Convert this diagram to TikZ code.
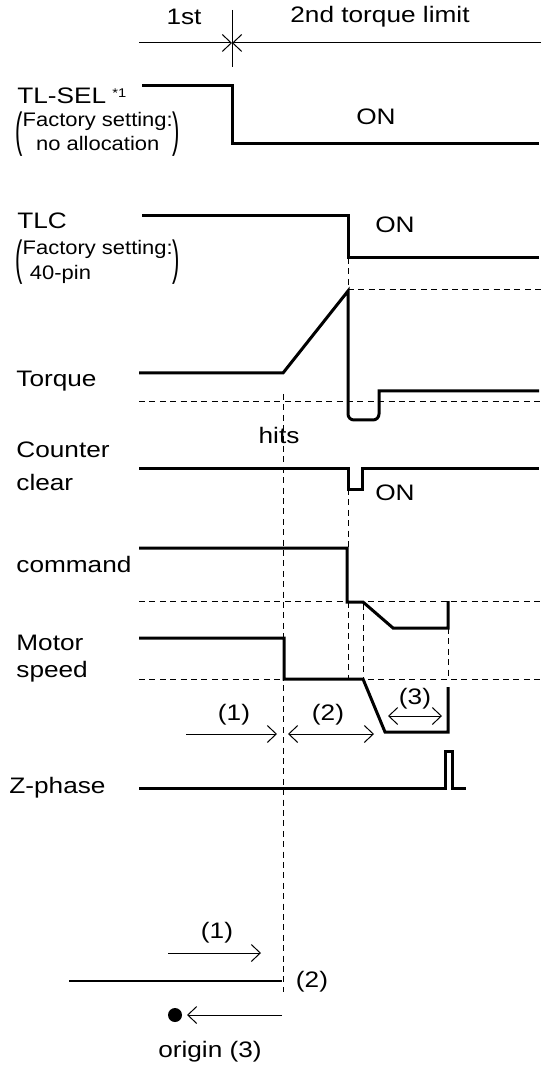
\documentclass[tikz,border=0pt]{standalone}
\usepackage{fontspec}
\setmainfont{Liberation Sans}[FakeStretch=1.17]
\newfontfamily\notefont{Liberation Sans}[FakeStretch=1.12]
\usepackage{graphicx}
\usetikzlibrary{arrows.meta}

% tall thin bracket for the setting notes
\newcommand{\tallparen}[1]{\raisebox{-9.9pt}{\scalebox{1}[2.44]{#1}}}

\begin{document}
\begin{tikzpicture}[x=0.5pt, y=-0.5pt,
    >={Straight Barb[length=4.5pt, width=8.5pt]},
    signal/.style = {line width=1.5pt, line join=miter},
    guide/.style = {line width=0.5pt, dash pattern=on 3pt off 2.2pt},
    dimline/.style = {line width=0.5pt},
    lbl/.style = {inner sep=0pt, font=\fontsize{11.2pt}{13pt}\selectfont},
    note/.style = {inner sep=0pt, anchor=base west, font=\notefont\fontsize{9.8pt}{12pt}\selectfont}]
    \useasboundingbox (0,0) rectangle (541,1068);

    % header
    \node[lbl] (first) at (184,17) {1st};
    \node[lbl] (second) at (380,17) {2nd torque limit};
    \draw[dimline] (232,10) -- (232,67);
    \draw[dimline, ->] (139,43) -- (232,43);
    \draw[dimline, ->] (541,43) -- (232,43);

    % signal names
    \node[lbl, anchor=base west] (tlsel) at (17,104) {TL-SEL};
    \node[inner sep=0pt, anchor=north west, font=\fontsize{6.3pt}{7pt}\selectfont] (star) at (112,88) {*1};
    \node[note] (tlselset) at (15,127) {\tallparen{(}\begin{tabular}[t]{@{}c@{}}Factory setting:\\no allocation\end{tabular}\tallparen{)}};
    \node[lbl, anchor=base west] (tlc) at (17,229) {TLC};
    \node[note] (tlcset) at (15,255) {\tallparen{(}\begin{tabular}[t]{@{}l@{}}Factory setting:\\[0.5pt]\hspace*{0.37em}40-pin\end{tabular}\tallparen{)}};
    \node[lbl, anchor=base west] (torque) at (16,387) {Torque};
    \node[lbl, anchor=base west] (counter) at (16,458) {Counter};
    \node[lbl, anchor=base west] (clear) at (16,490) {clear};
    \node[lbl, anchor=base west] (command) at (16,572) {command};
    \node[lbl, anchor=base west] (motor) at (16,650) {Motor};
    \node[lbl, anchor=base west] (speed) at (16,677) {speed};
    \node[lbl, anchor=base west] (zphase) at (9,793) {Z-phase};

    % levels
    \node[lbl] (on1) at (376,117) {ON};
    \node[lbl] (on2) at (395,225) {ON};
    \node[lbl] (on3) at (395,493) {ON};
    \node[lbl] (hits) at (279,435) {hits};

    % dashed guides
    \draw[guide] (348,258) -- (348,290);
    \draw[guide] (348,290) -- (541,290);
    \draw[guide] (139,402) -- (541,402);
    \draw[guide] (283,394) -- (283,992);
    \draw[guide] (348,489) -- (348,548);
    \draw[guide] (139,601) -- (541,601);
    \draw[guide] (348,602) -- (348,679);
    \draw[guide] (363,604) -- (363,679);
    \draw[guide] (448,628) -- (448,679);
    \draw[guide] (139,679) -- (541,679);

    % waveforms
    \draw[signal] (142,86) -- (232,86) -- (232,144) -- (539,144);
    \draw[signal] (142,216) -- (348,216) -- (348,258) -- (539,258);
    \draw[signal] (139,373) -- (283,373) -- (348,291) -- (348,414)
        to[out=-90, in=180] (354,420) -- (373,420) to[out=0, in=-90] (379,414)
        -- (379,391) -- (539,391);
    \draw[signal] (139,468) -- (348,468) -- (348,489) -- (362,489) -- (362,468) -- (539,468);
    \draw[signal] (139,548) -- (347,548) -- (347,602) -- (363,602) -- (393,628) -- (448,628) -- (448,601);
    \draw[signal] (139,638) -- (284,638) -- (284,679) -- (363,679) -- (385,732) -- (448,732) -- (448,687);
    \draw[signal] (139,788) -- (445,788) -- (445,751) -- (452,751) -- (452,788) -- (466,788);

    % phases
    \node[lbl] (p1) at (234,715) {(1)};
    \node[lbl] (p2) at (328,715) {(2)};
    \node[lbl] (p3) at (415,699) {(3)};
    \draw[dimline, ->] (186,734) -- (277,734);
    \draw[dimline, <->] (288,734) -- (374,734);
    \draw[dimline, <->] (388,716) -- (442,716);

    % travel to origin
    \node[lbl] (q1) at (217,933) {(1)};
    \node[lbl] (q2) at (312,982) {(2)};
    \node[lbl] (origin) at (210,1052) {origin (3)};
    \draw[dimline, ->] (168,953) -- (261,953);
    \draw[line width=0.6pt] (69,981) -- (282,981);
    \fill (175,1015) circle[radius=3.5pt];
    \draw[dimline, ->] (282,1015) -- (187,1015);
\end{tikzpicture}
\end{document}
